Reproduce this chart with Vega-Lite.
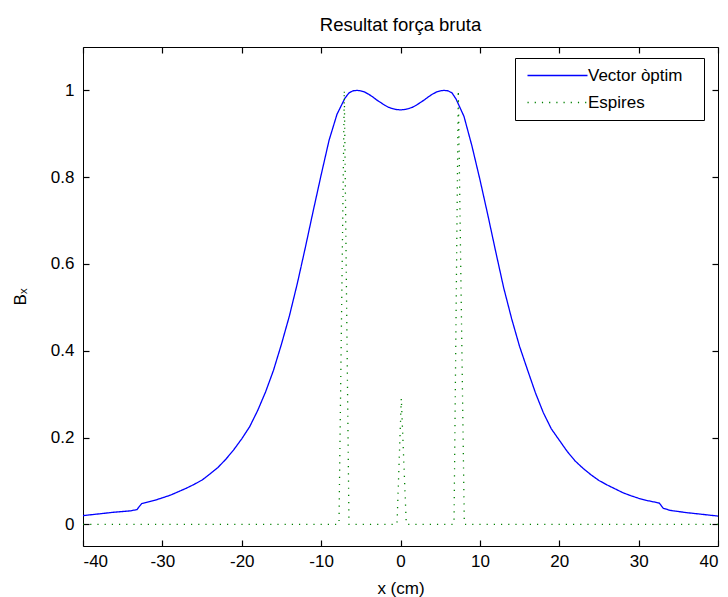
{
  "$schema": "https://vega.github.io/schema/vega-lite/v6.json",
  "width": 635,
  "height": 499,
  "autosize": {"type": "none"},
  "padding": {"left": 83, "top": 47, "right": 10, "bottom": 51},
  "background": "white",
  "config": {
    "font": "Liberation Sans",
    "view": {"stroke": "black", "strokeWidth": 1},
    "axis": {
      "grid": false,
      "domain": false,
      "ticks": true,
      "tickColor": "black",
      "tickSize": 6,
      "offset": -6,
      "tickWidth": 1.2,
      "labelColor": "black",
      "labelFontSize": 17,
      "titleColor": "black",
      "titleFontSize": 17,
      "titleFontWeight": "normal"
    }
  },
  "title": {
    "text": "Resultat força bruta",
    "fontSize": 18.5,
    "fontWeight": "normal",
    "color": "black",
    "anchor": "middle",
    "baseline": "alphabetic",
    "offset": 15,
    "dy": 18
  },
  "data": {
    "values": [
      {"series": "Vector òptim", "x": -40, "bx": 0.020},
      {"series": "Vector òptim", "x": -38, "bx": 0.024},
      {"series": "Vector òptim", "x": -36, "bx": 0.028},
      {"series": "Vector òptim", "x": -34, "bx": 0.031},
      {"series": "Vector òptim", "x": -33.2, "bx": 0.034},
      {"series": "Vector òptim", "x": -32.6, "bx": 0.048},
      {"series": "Vector òptim", "x": -31, "bx": 0.055},
      {"series": "Vector òptim", "x": -30, "bx": 0.061},
      {"series": "Vector òptim", "x": -29, "bx": 0.067},
      {"series": "Vector òptim", "x": -28, "bx": 0.075},
      {"series": "Vector òptim", "x": -27, "bx": 0.083},
      {"series": "Vector òptim", "x": -26, "bx": 0.092},
      {"series": "Vector òptim", "x": -25, "bx": 0.102},
      {"series": "Vector òptim", "x": -24, "bx": 0.116},
      {"series": "Vector òptim", "x": -23, "bx": 0.131},
      {"series": "Vector òptim", "x": -22, "bx": 0.150},
      {"series": "Vector òptim", "x": -21, "bx": 0.172},
      {"series": "Vector òptim", "x": -20, "bx": 0.197},
      {"series": "Vector òptim", "x": -19, "bx": 0.225},
      {"series": "Vector òptim", "x": -18, "bx": 0.262},
      {"series": "Vector òptim", "x": -17, "bx": 0.305},
      {"series": "Vector òptim", "x": -16, "bx": 0.355},
      {"series": "Vector òptim", "x": -15, "bx": 0.415},
      {"series": "Vector òptim", "x": -14, "bx": 0.480},
      {"series": "Vector òptim", "x": -13, "bx": 0.555},
      {"series": "Vector òptim", "x": -12, "bx": 0.637},
      {"series": "Vector òptim", "x": -11, "bx": 0.722},
      {"series": "Vector òptim", "x": -10, "bx": 0.805},
      {"series": "Vector òptim", "x": -9, "bx": 0.885},
      {"series": "Vector òptim", "x": -8, "bx": 0.945},
      {"series": "Vector òptim", "x": -7, "bx": 0.982},
      {"series": "Vector òptim", "x": -6.5, "bx": 0.994},
      {"series": "Vector òptim", "x": -6, "bx": 0.999},
      {"series": "Vector òptim", "x": -5.5, "bx": 1.000},
      {"series": "Vector òptim", "x": -5, "bx": 0.999},
      {"series": "Vector òptim", "x": -4.5, "bx": 0.996},
      {"series": "Vector òptim", "x": -4, "bx": 0.991},
      {"series": "Vector òptim", "x": -3.5, "bx": 0.985},
      {"series": "Vector òptim", "x": -3, "bx": 0.978},
      {"series": "Vector òptim", "x": -2.5, "bx": 0.972},
      {"series": "Vector òptim", "x": -2, "bx": 0.966},
      {"series": "Vector òptim", "x": -1.5, "bx": 0.961},
      {"series": "Vector òptim", "x": -1, "bx": 0.958},
      {"series": "Vector òptim", "x": -0.5, "bx": 0.956},
      {"series": "Vector òptim", "x": 0, "bx": 0.955},
      {"series": "Vector òptim", "x": 0.5, "bx": 0.956},
      {"series": "Vector òptim", "x": 1, "bx": 0.958},
      {"series": "Vector òptim", "x": 1.5, "bx": 0.961},
      {"series": "Vector òptim", "x": 2, "bx": 0.966},
      {"series": "Vector òptim", "x": 2.5, "bx": 0.972},
      {"series": "Vector òptim", "x": 3, "bx": 0.978},
      {"series": "Vector òptim", "x": 3.5, "bx": 0.985},
      {"series": "Vector òptim", "x": 4, "bx": 0.991},
      {"series": "Vector òptim", "x": 4.5, "bx": 0.996},
      {"series": "Vector òptim", "x": 5, "bx": 0.999},
      {"series": "Vector òptim", "x": 5.5, "bx": 1.000},
      {"series": "Vector òptim", "x": 6, "bx": 0.999},
      {"series": "Vector òptim", "x": 6.5, "bx": 0.994},
      {"series": "Vector òptim", "x": 7, "bx": 0.980},
      {"series": "Vector òptim", "x": 8, "bx": 0.940},
      {"series": "Vector òptim", "x": 9, "bx": 0.872},
      {"series": "Vector òptim", "x": 10, "bx": 0.795},
      {"series": "Vector òptim", "x": 11, "bx": 0.713},
      {"series": "Vector òptim", "x": 12, "bx": 0.628},
      {"series": "Vector òptim", "x": 13, "bx": 0.545},
      {"series": "Vector òptim", "x": 14, "bx": 0.474},
      {"series": "Vector òptim", "x": 15, "bx": 0.410},
      {"series": "Vector òptim", "x": 16, "bx": 0.356},
      {"series": "Vector òptim", "x": 17, "bx": 0.303},
      {"series": "Vector òptim", "x": 18, "bx": 0.257},
      {"series": "Vector òptim", "x": 19, "bx": 0.220},
      {"series": "Vector òptim", "x": 20, "bx": 0.194},
      {"series": "Vector òptim", "x": 21, "bx": 0.168},
      {"series": "Vector òptim", "x": 22, "bx": 0.146},
      {"series": "Vector òptim", "x": 23, "bx": 0.129},
      {"series": "Vector òptim", "x": 24, "bx": 0.114},
      {"series": "Vector òptim", "x": 25, "bx": 0.101},
      {"series": "Vector òptim", "x": 26, "bx": 0.091},
      {"series": "Vector òptim", "x": 27, "bx": 0.082},
      {"series": "Vector òptim", "x": 28, "bx": 0.073},
      {"series": "Vector òptim", "x": 29, "bx": 0.066},
      {"series": "Vector òptim", "x": 30, "bx": 0.060},
      {"series": "Vector òptim", "x": 31, "bx": 0.055},
      {"series": "Vector òptim", "x": 32.6, "bx": 0.049},
      {"series": "Vector òptim", "x": 33.1, "bx": 0.037},
      {"series": "Vector òptim", "x": 34, "bx": 0.032},
      {"series": "Vector òptim", "x": 36, "bx": 0.027},
      {"series": "Vector òptim", "x": 38, "bx": 0.023},
      {"series": "Vector òptim", "x": 40, "bx": 0.019},
      {"series": "Espires", "x": -40, "bx": 0},
      {"series": "Espires", "x": -7.75, "bx": 0},
      {"series": "Espires", "x": -7.08, "bx": 1},
      {"series": "Espires", "x": -6.49, "bx": 0},
      {"series": "Espires", "x": -0.44, "bx": 0},
      {"series": "Espires", "x": 0.1, "bx": 0.29},
      {"series": "Espires", "x": 0.73, "bx": 0},
      {"series": "Espires", "x": 6.74, "bx": 0},
      {"series": "Espires", "x": 7.28, "bx": 1},
      {"series": "Espires", "x": 8.04, "bx": 0},
      {"series": "Espires", "x": 40, "bx": 0}
    ]
  },
  "layer": [
    {
      "mark": {"type": "line", "strokeWidth": 1.3, "clip": true},
      "encoding": {
        "x": {
          "field": "x",
          "type": "quantitative",
          "scale": {"domain": [-40, 40], "nice": false, "zero": false},
          "axis": {
            "orient": "bottom",
            "values": [-40, -30, -20, -10, 0, 10, 20, 30, 40],
            "labelExpr": "'' + datum.value",
            "labelPadding": 7,
            "title": "x (cm)",
            "titlePadding": 11
          }
        },
        "y": {
          "field": "bx",
          "type": "quantitative",
          "scale": {"domain": [-0.05, 1.1], "nice": false, "zero": false},
          "axis": {
            "orient": "left",
            "values": [0, 0.2, 0.4, 0.6, 0.8, 1],
            "labelExpr": "'' + datum.value",
            "labelPadding": 9,
            "title": "Bₓ",
            "titlePadding": 21
          }
        },
        "color": {
          "field": "series",
          "type": "nominal",
          "scale": {"domain": ["Vector òptim", "Espires"], "range": ["#0000ff", "#008000"]},
          "legend": {
            "orient": "none",
            "legendX": 432,
            "legendY": 11,
            "title": null,
            "strokeColor": "black",
            "fillColor": "white",
            "padding": 9,
            "cornerRadius": 0,
            "symbolType": "M-1,0H11",
            "symbolSize": 100,
            "symbolStrokeWidth": 1.5,
            "labelFontSize": 17,
            "labelColor": "black",
            "labelOffset": 47,
            "labelExpr": "datum.label + '\u2800'",
            "rowPadding": 9
          }
        },
        "strokeDash": {
          "field": "series",
          "type": "nominal",
          "scale": {"domain": ["Vector òptim", "Espires"], "range": [[1, 0], [1.2, 6]]},
          "legend": {
            "orient": "none",
            "legendX": 432,
            "legendY": 11,
            "title": null,
            "strokeColor": "black",
            "fillColor": "white",
            "padding": 9,
            "cornerRadius": 0,
            "symbolType": "M-1,0H11",
            "symbolSize": 100,
            "symbolStrokeWidth": 1.5,
            "labelFontSize": 17,
            "labelColor": "black",
            "labelOffset": 47,
            "labelExpr": "datum.label + '\u2800'",
            "rowPadding": 9
          }
        }
      }
    },
    {
      "mark": {"type": "point", "opacity": 0},
      "encoding": {
        "x": {
          "field": "x",
          "type": "quantitative",
          "axis": {
            "orient": "top",
            "values": [-40, -30, -20, -10, 0, 10, 20, 30, 40],
            "labels": false,
            "title": null
          }
        },
        "y": {
          "field": "bx",
          "type": "quantitative",
          "axis": {
            "orient": "right",
            "values": [0, 0.2, 0.4, 0.6, 0.8, 1],
            "labels": false,
            "title": null
          }
        }
      }
    }
  ],
  "resolve": {"axis": {"x": "independent", "y": "independent"}}
}
